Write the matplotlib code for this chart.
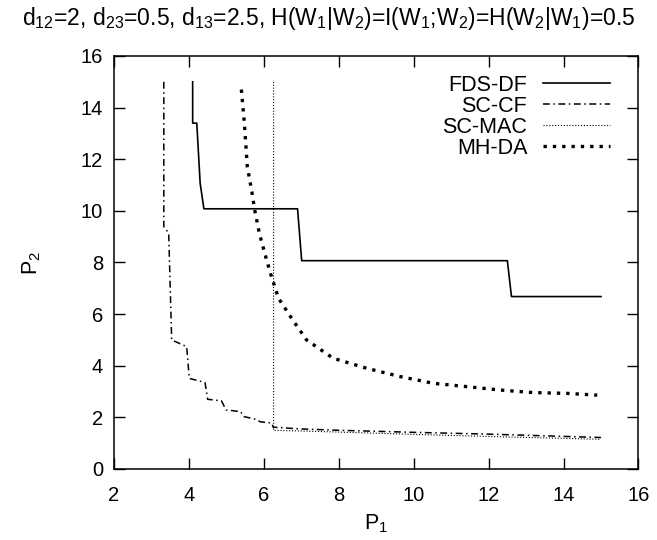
import matplotlib
matplotlib.use("Agg")
import matplotlib.pyplot as plt

plt.rcParams['font.family'] = ['Liberation Sans', 'DejaVu Sans']
plt.rcParams['mathtext.fontset'] = 'custom'
plt.rcParams['mathtext.rm'] = 'Liberation Sans'
plt.rcParams['mathtext.it'] = 'Liberation Sans'
plt.rcParams['mathtext.default'] = 'regular'

title = r'd$_{12}$=2, d$_{23}$=0.5, d$_{13}$=2.5, H(W$_1$|W$_2$)=I(W$_1$;W$_2$)=H(W$_2$|W$_1$)=0.5'
xlabel = r'P$_1$'
ylabel = r'P$_2$'
xticks = [2, 4, 6, 8, 10, 12, 14, 16]
yticks = [0, 2, 4, 6, 8, 10, 12, 14, 16]

fds_x = [4.10, 4.10, 4.21, 4.30, 4.40, 6.90, 7.01, 12.50, 12.61, 15.0]
fds_y = [15.0, 13.4, 13.4, 11.07, 10.08, 10.08, 8.07, 8.07, 6.68, 6.68]

sccf_x = [3.33, 3.33, 3.46, 3.54, 3.94, 4.01, 4.43, 4.50, 4.87, 4.99, 5.38, 5.47, 5.80, 5.90, 6.21, 6.25,
          7.0, 8.0, 10.0, 12.0, 15.0]
sccf_y = [15.0, 9.39, 9.14, 5.0, 4.74, 3.51, 3.35, 2.70, 2.64, 2.29, 2.22, 2.03, 1.92, 1.83, 1.78, 1.62,
          1.55, 1.50, 1.42, 1.35, 1.22]

scmac_x = [6.26, 6.26, 8.0, 10.0, 12.0, 15.0]
scmac_y = [15.0, 1.50, 1.43, 1.34, 1.26, 1.15]

mhda_x = [5.40, 5.48, 5.56, 5.68, 5.75, 5.88, 6.06, 6.19, 6.39, 6.74, 7.14, 7.85, 8.75, 9.64, 10.52,
          11.42, 12.30, 13.19, 14.09, 14.90]
mhda_y = [14.7, 13.4, 11.7, 10.75, 10.08, 9.13, 8.17, 7.52, 6.62, 5.84, 5.0, 4.29, 3.90, 3.58, 3.32,
          3.19, 3.06, 2.96, 2.93, 2.86]

fig = plt.figure(figsize=(6.57, 5.40), dpi=100)
ax = fig.add_axes([0.1735, 0.1315, 0.9718 - 0.1735, 0.8963 - 0.1315])

ax.plot(fds_x, fds_y, color='black', lw=1.2, ls='-', label='FDS-DF')
ax.plot(sccf_x, sccf_y, color='black', lw=1.1, ls=(0, (4.5, 2.3, 1, 2.3)), label='SC-CF')
ax.plot(scmac_x, scmac_y, color='black', lw=0.8, ls=(0, (1, 1.6)), label='SC-MAC')
ax.plot(mhda_x, mhda_y, color='black', lw=2.4, ls=(0, (1, 1.8)), dash_capstyle='butt', label='MH-DA')

ax.set_xlim(2, 16)
ax.set_ylim(0, 16)
ax.set_xticks(xticks)
ax.set_yticks(yticks)
ax.tick_params(direction='in', length=7.6, width=1.0, top=True, right=True,
               labelsize=14.5, pad=8.0)
ax.tick_params(axis='x', pad=12.5)
for s in ax.spines.values():
    s.set_linewidth(1.1)

ax.set_xlabel(xlabel, fontsize=15.5)
ax.set_ylabel(ylabel, fontsize=15.5)
ax.xaxis.set_label_coords(0.5, -0.105)
ax.yaxis.set_label_coords(-0.135, 0.5)
fig.text(0.5, 0.966, title, ha='center', va='center', fontsize=16.5)

leg = ax.legend(loc='upper right', bbox_to_anchor=(0.946, 0.955), frameon=False,
                markerfirst=False, fontsize=15.5, handlelength=3.1, handletextpad=0.75,
                labelspacing=0.0, borderpad=0, borderaxespad=0)

fig.savefig('out.png', dpi=100)
